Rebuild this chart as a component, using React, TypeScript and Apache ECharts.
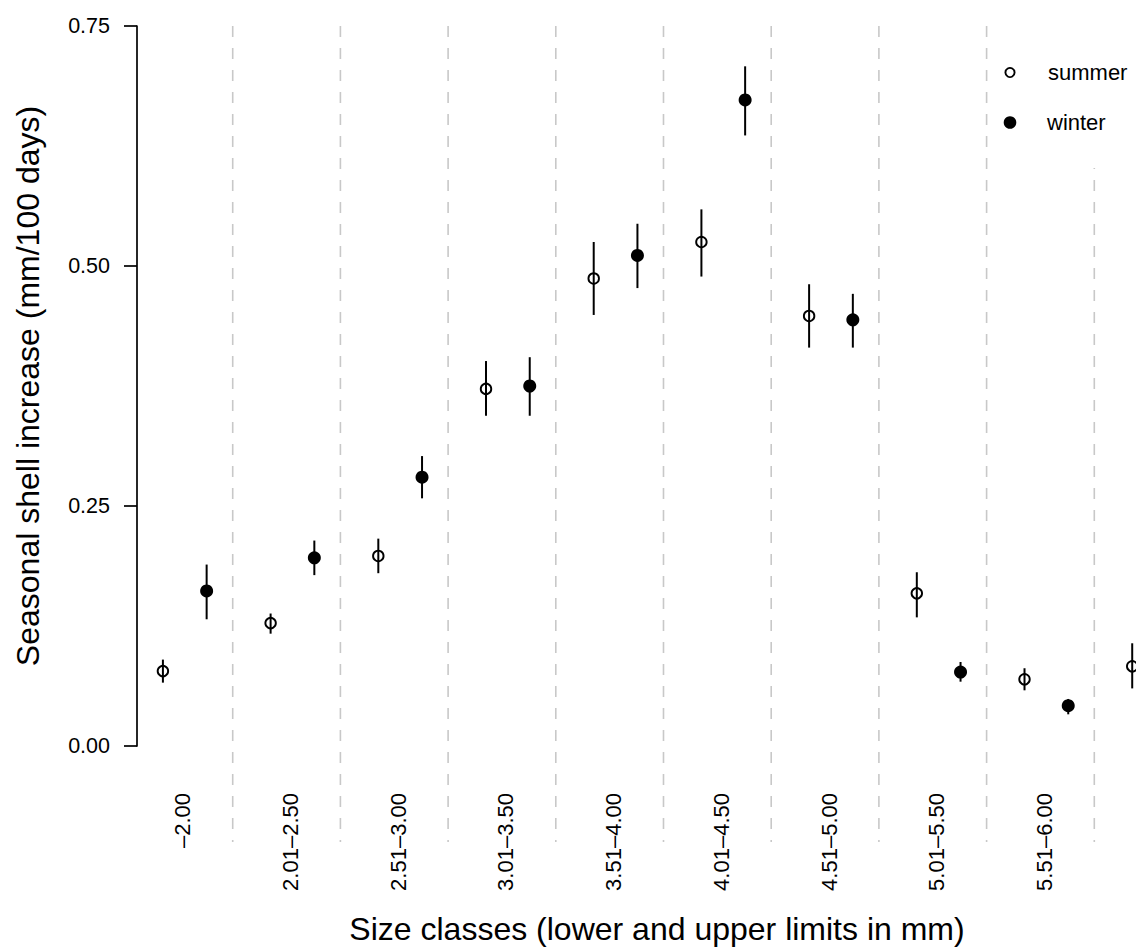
import React, { useEffect, useRef } from "react";
import * as echarts from "echarts";

// Size classes (lower and upper limits in mm); the tenth class label is cut off in the source
const categories = [
  "–2.00",
  "2.01–2.50",
  "2.51–3.00",
  "3.01–3.50",
  "3.51–4.00",
  "4.01–4.50",
  "4.51–5.00",
  "5.01–5.50",
  "5.51–6.00",
];

// Seasonal shell increase (mm/100 days)
const summerMean = [0.078, 0.128, 0.198, 0.372, 0.487, 0.525, 0.448, 0.159, 0.0695, 0.083];
const summerLow = [0.066, 0.117, 0.18, 0.344, 0.449, 0.489, 0.415, 0.134, 0.058, 0.06];
const summerHigh = [0.09, 0.138, 0.216, 0.401, 0.525, 0.559, 0.481, 0.181, 0.081, 0.107];

const winterMean = [0.1615, 0.196, 0.28, 0.375, 0.511, 0.673, 0.444, 0.077, 0.042, null];
const winterLow = [0.132, 0.178, 0.258, 0.344, 0.477, 0.636, 0.415, 0.067, 0.033, null];
const winterHigh = [0.189, 0.214, 0.302, 0.405, 0.544, 0.708, 0.471, 0.0875, 0.049, null];

const yTickLabels = ["0.00", "0.25", "0.50", "0.75"];

const SUMMER_OFFSET = -0.148;
const WINTER_OFFSET = 0.258;
const separators = [1.5, 2.5, 3.5, 4.5, 5.5, 6.5, 7.5, 8.5, 9.5];

const FONT = "'Liberation Sans', Arial, Helvetica, sans-serif";

export default function App() {
  const ref = useRef<HTMLDivElement>(null);

  useEffect(() => {
    const chart = echarts.init(ref.current!, null, { renderer: "svg" });

    const summerPts: number[][] = [];
    const summerBars: number[][] = [];
    summerMean.forEach((v, i) => {
      if (v == null) return;
      summerPts.push([i + 1 + SUMMER_OFFSET, v]);
      summerBars.push([i + 1 + SUMMER_OFFSET, summerLow[i] as number, summerHigh[i] as number]);
    });
    const winterPts: number[][] = [];
    const winterBars: number[][] = [];
    winterMean.forEach((v, i) => {
      if (v == null) return;
      winterPts.push([i + 1 + WINTER_OFFSET, v]);
      winterBars.push([i + 1 + WINTER_OFFSET, winterLow[i] as number, winterHigh[i] as number]);
    });

    const errRender = (params: any, api: any) => {
      const p1 = api.coord([api.value(0), api.value(1)]);
      const p2 = api.coord([api.value(0), api.value(2)]);
      return {
        type: "line",
        shape: { x1: p1[0], y1: p1[1], x2: p2[0], y2: p2[1] },
        style: { stroke: "#000", lineWidth: 2 },
      };
    };

    chart.setOption({
      animation: false,
      backgroundColor: "#ffffff",
      textStyle: { fontFamily: FONT },
      grid: { left: 125, right: 8, top: 26, bottom: 206, containLabel: false },
      xAxis: {
        type: "value",
        min: 0.5,
        max: 10.5,
        interval: 0.5,
        name: "Size classes (lower and upper limits in mm)",
        nameLocation: "middle",
        nameGap: 167,
        nameTextStyle: { fontSize: 32, color: "#000", fontFamily: FONT, padding: [0, 13, 0, 0] },
        axisLine: { show: false },
        axisTick: { show: false },
        splitLine: { show: false },
        axisLabel: {
          rotate: 90,
          margin: 47,
          fontSize: 22,
          lineHeight: 8,
          verticalAlign: "top",
          color: "#000",
          fontFamily: FONT,
          showMinLabel: true,
          showMaxLabel: true,
          formatter: (v: number) => {
            if (Math.abs(v - Math.round(v)) < 1e-6) {
              const idx = Math.round(v) - 1;
              return categories[idx] ?? "";
            }
            return "";
          },
        },
      },
      yAxis: {
        type: "value",
        min: 0,
        max: 0.75,
        interval: 0.25,
        offset: -12,
        name: "Seasonal shell increase (mm/100 days)",
        nameLocation: "middle",
        nameRotate: 90,
        nameGap: 93,
        nameTextStyle: { fontSize: 32, color: "#000", fontFamily: FONT },
        axisLine: { show: true, lineStyle: { color: "#000", width: 1.7 } },
        axisTick: { show: true, length: 13, lineStyle: { color: "#000", width: 1.7 } },
        splitLine: { show: false },
        axisLabel: {
          margin: 27,
          fontSize: 21.5,
          color: "#000",
          fontFamily: FONT,
          formatter: (v: number) => yTickLabels[Math.round(v / 0.25)] ?? v.toFixed(2),
        },
      },
      series: [
        {
          type: "custom",
          name: "separators",
          z: 1,
          clip: false,
          silent: true,
          data: separators.map((s) => [s]),
          encode: { x: 0 },
          renderItem: (params: any, api: any) => {
            const x = api.value(0);
            const top = api.coord([x, 0.75]);
            const bot = api.coord([x, -0.1]);
            return {
              type: "line",
              shape: { x1: top[0], y1: top[1], x2: bot[0], y2: bot[1] },
              style: { stroke: "#c8c8c8", lineWidth: 1.6, lineDash: [11, 11] },
            };
          },
        },
        {
          type: "custom",
          name: "summer error",
          z: 3,
          data: summerBars,
          encode: { x: 0, y: [1, 2] },
          renderItem: errRender,
        },
        {
          type: "custom",
          name: "winter error",
          z: 3,
          data: winterBars,
          encode: { x: 0, y: [1, 2] },
          renderItem: errRender,
        },
        {
          type: "scatter",
          name: "summer",
          z: 4,
          symbol: "circle",
          symbolSize: 10.5,
          data: summerPts,
          itemStyle: { color: "rgba(255,255,255,0)", borderColor: "#000", borderWidth: 1.9, opacity: 1 },
        },
        {
          type: "scatter",
          name: "winter",
          z: 4,
          symbol: "circle",
          symbolSize: 13,
          data: winterPts,
          itemStyle: { color: "#000", borderWidth: 0, opacity: 1 },
        },
      ],
      graphic: [
        {
          type: "rect",
          z: 20,
          shape: { x: 994, y: 0, width: 300, height: 168 },
          style: { fill: "#ffffff" },
          silent: true,
        },
        {
          type: "circle",
          z: 21,
          shape: { cx: 1010, cy: 72.5, r: 4.6 },
          style: { fill: "rgba(255,255,255,0)", stroke: "#000", lineWidth: 1.9 },
        },
        {
          type: "text",
          z: 21,
          x: 1048,
          y: 72,
          style: {
            text: "summer",
            fontSize: 22,
            fontFamily: FONT,
            fill: "#000",
            align: "left",
            verticalAlign: "middle",
          },
        },
        {
          type: "circle",
          z: 21,
          shape: { cx: 1010, cy: 122.5, r: 6.3 },
          style: { fill: "#000" },
        },
        {
          type: "text",
          z: 21,
          x: 1047,
          y: 122,
          style: {
            text: "winter",
            fontSize: 22,
            fontFamily: FONT,
            fill: "#000",
            align: "left",
            verticalAlign: "middle",
          },
        },
      ],
    });

    return () => chart.dispose();
  }, []);

  return (
    <div
      style={{
        position: "absolute",
        left: 0,
        top: 0,
        width: 1136,
        height: 952,
        overflow: "hidden",
        background: "#fff",
      }}
    >
      <div ref={ref} style={{ position: "absolute", left: 0, top: 0, width: 1210, height: 952 }} />
    </div>
  );
}
